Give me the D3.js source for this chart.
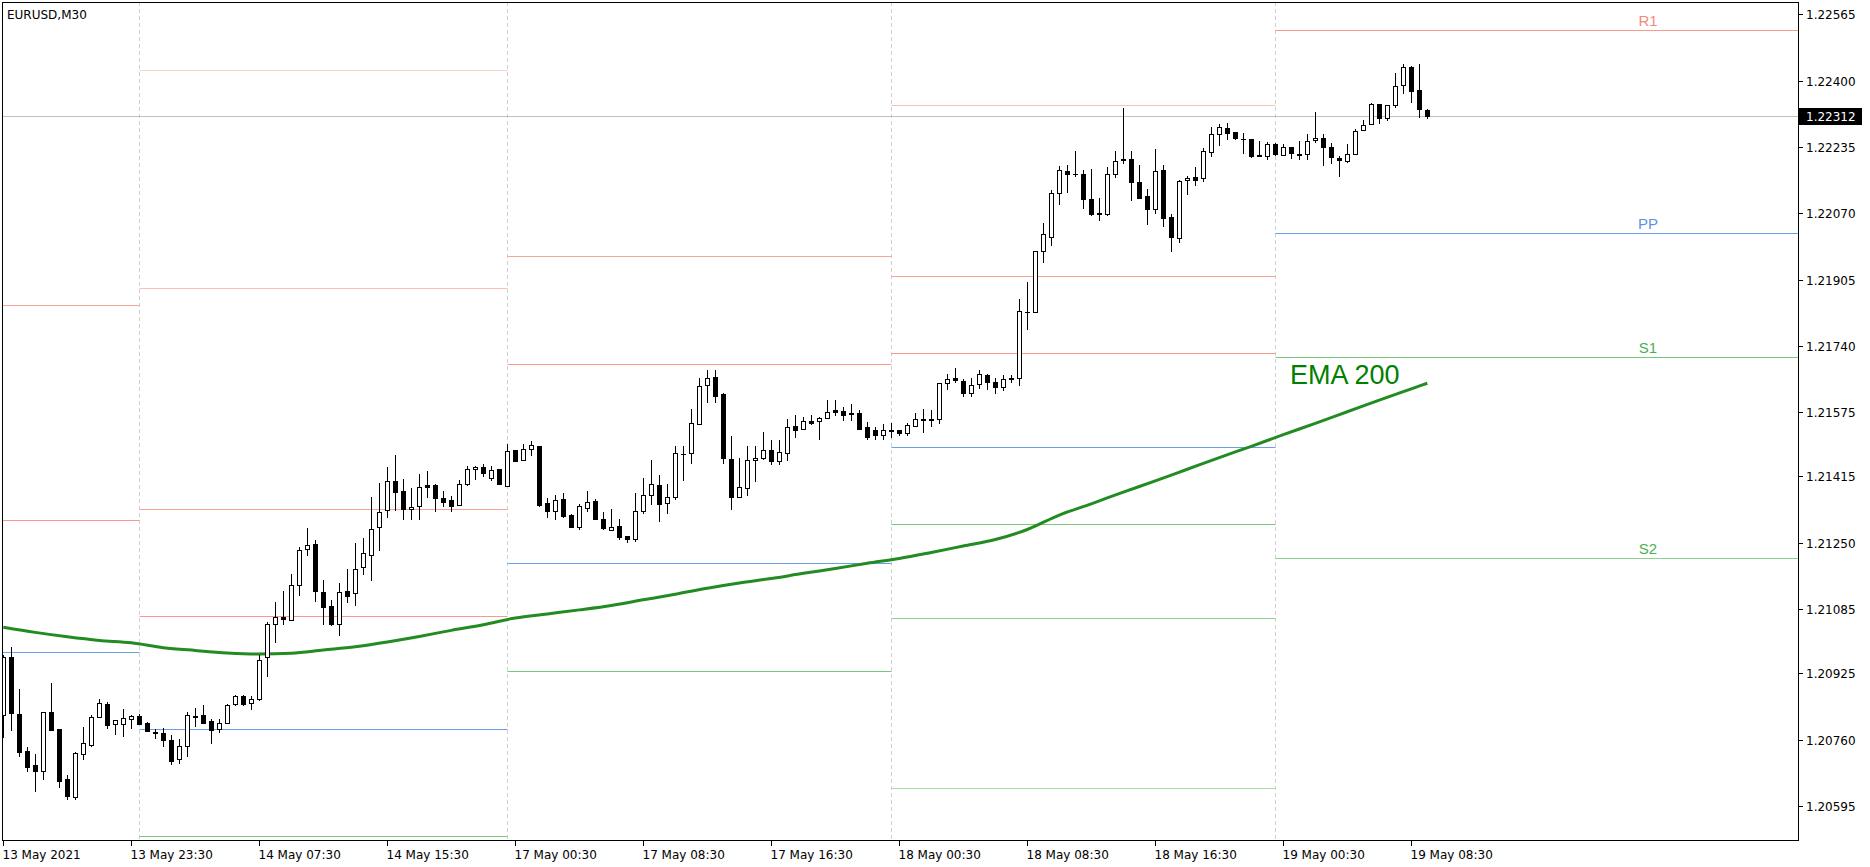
<!DOCTYPE html>
<html><head><meta charset="utf-8">
<script src="https://cdn.jsdelivr.net/npm/d3@7"></script>
<style>html,body{margin:0;padding:0;background:#fff;overflow:hidden}svg{display:block}</style>
</head><body><svg id="c" width="1870" height="867"></svg>
<script>
// ---------- DATA ----------
const symbolTitle = "EURUSD,M30";
const opens = [1.20821,1.20965,1.20823,1.20732,1.20697,1.20683,1.20828,1.20787,1.20662,1.20618,1.20724,1.20747,1.20816,1.20848,1.20798,1.20798,1.20811,1.20818,1.20801,1.20779,1.20776,1.20759,1.20711,1.20745,1.20817,1.20821,1.20806,1.20787,1.20801,1.20848,1.20868,1.20851,1.20861,1.20965,1.21047,1.21065,1.21057,1.21144,1.21234,1.21246,1.21127,1.21092,1.21047,1.21129,1.21124,1.21189,1.21219,1.21289,1.21331,1.21403,1.21378,1.21333,1.21341,1.21393,1.21393,1.21361,1.21356,1.21343,1.21396,1.21433,1.21438,1.21411,1.21434,1.21391,1.21480,1.21455,1.21483,1.21490,1.21348,1.21330,1.21358,1.21318,1.21288,1.21337,1.21353,1.21309,1.21283,1.21291,1.21266,1.21260,1.21330,1.21368,1.21393,1.21348,1.21363,1.21472,1.21473,1.21545,1.21642,1.21662,1.21620,1.21459,1.21363,1.21386,1.21455,1.21460,1.21481,1.21454,1.21473,1.21541,1.21532,1.21553,1.21552,1.21560,1.21580,1.21577,1.21572,1.21572,1.21539,1.21530,1.21519,1.21530,1.21530,1.21522,1.21540,1.21556,1.21557,1.21557,1.21647,1.21659,1.21652,1.21622,1.21644,1.21667,1.21649,1.21637,1.21659,1.21659,1.21824,1.21824,1.21975,1.22010,1.22120,1.22175,1.22167,1.22167,1.22105,1.22070,1.22069,1.22167,1.22205,1.22205,1.22147,1.22112,1.22081,1.22177,1.22060,1.22009,1.22152,1.22160,1.22157,1.22222,1.22266,1.22281,1.22271,1.22254,1.22254,1.22214,1.22212,1.22242,1.22214,1.22234,1.22217,1.22217,1.22252,1.22257,1.22234,1.22207,1.22199,1.22217,1.22276,1.22291,1.22341,1.22306,1.22339,1.22388,1.22433,1.22376,1.22326];
const highs = [1.20971,1.20990,1.20886,1.20742,1.20725,1.20829,1.20901,1.20787,1.20672,1.20729,1.20792,1.20822,1.20861,1.20853,1.20808,1.20837,1.20821,1.20824,1.20803,1.20786,1.20789,1.20772,1.20761,1.20828,1.20838,1.20846,1.20812,1.20812,1.20848,1.20871,1.20870,1.20868,1.20970,1.21052,1.21103,1.21130,1.21172,1.21240,1.21287,1.21257,1.21157,1.21107,1.21150,1.21185,1.21249,1.21262,1.21364,1.21399,1.21439,1.21468,1.21409,1.21386,1.21421,1.21429,1.21396,1.21379,1.21366,1.21406,1.21440,1.21440,1.21445,1.21440,1.21434,1.21495,1.21481,1.21495,1.21504,1.21490,1.21361,1.21368,1.21373,1.21322,1.21347,1.21378,1.21358,1.21326,1.21333,1.21309,1.21267,1.21373,1.21411,1.21455,1.21418,1.21396,1.21490,1.21490,1.21583,1.21659,1.21679,1.21679,1.21622,1.21515,1.21460,1.21490,1.21490,1.21526,1.21506,1.21506,1.21557,1.21568,1.21562,1.21568,1.21562,1.21605,1.21605,1.21587,1.21595,1.21580,1.21550,1.21537,1.21545,1.21548,1.21530,1.21548,1.21572,1.21582,1.21580,1.21647,1.21669,1.21685,1.21657,1.21659,1.21679,1.21669,1.21659,1.21667,1.21667,1.21856,1.21898,1.21975,1.22045,1.22127,1.22188,1.22189,1.22224,1.22177,1.22179,1.22107,1.22184,1.22225,1.22331,1.22224,1.22189,1.22130,1.22230,1.22189,1.22067,1.22152,1.22162,1.22184,1.22232,1.22284,1.22291,1.22294,1.22271,1.22269,1.22254,1.22249,1.22247,1.22244,1.22242,1.22234,1.22249,1.22266,1.22322,1.22266,1.22244,1.22212,1.22242,1.22279,1.22301,1.22344,1.22341,1.22339,1.22418,1.22441,1.22436,1.22441,1.22329];
const lows = [1.20766,1.20783,1.20720,1.20681,1.20633,1.20663,1.20784,1.20643,1.20612,1.20613,1.20711,1.20744,1.20816,1.20790,1.20775,1.20770,1.20788,1.20799,1.20781,1.20765,1.20745,1.20700,1.20702,1.20720,1.20795,1.20802,1.20753,1.20780,1.20801,1.20846,1.20846,1.20836,1.20858,1.20918,1.21004,1.21047,1.21057,1.21121,1.21220,1.21104,1.21047,1.21046,1.21021,1.21103,1.21094,1.21173,1.21158,1.21233,1.21313,1.21332,1.21308,1.21308,1.21310,1.21364,1.21330,1.21341,1.21330,1.21343,1.21393,1.21408,1.21417,1.21405,1.21395,1.21391,1.21453,1.21455,1.21468,1.21342,1.21315,1.21308,1.21315,1.21288,1.21284,1.21330,1.21308,1.21284,1.21283,1.21260,1.21253,1.21255,1.21325,1.21347,1.21305,1.21325,1.21360,1.21405,1.21449,1.21545,1.21601,1.21601,1.21448,1.21335,1.21363,1.21368,1.21403,1.21459,1.21446,1.21446,1.21456,1.21512,1.21532,1.21545,1.21509,1.21560,1.21567,1.21556,1.21556,1.21534,1.21507,1.21507,1.21507,1.21514,1.21518,1.21518,1.21540,1.21526,1.21540,1.21549,1.21632,1.21649,1.21615,1.21615,1.21634,1.21632,1.21622,1.21629,1.21649,1.21642,1.21781,1.21824,1.21948,1.21990,1.22092,1.22122,1.22163,1.22082,1.22066,1.22054,1.22066,1.22161,1.22194,1.22104,1.22109,1.22043,1.22071,1.22039,1.21975,1.21999,1.22117,1.22140,1.22150,1.22212,1.22239,1.22254,1.22254,1.22219,1.22209,1.22212,1.22204,1.22214,1.22214,1.22207,1.22204,1.22204,1.22247,1.22189,1.22194,1.22163,1.22197,1.22217,1.22276,1.22291,1.22294,1.22301,1.22334,1.22369,1.22346,1.22309,1.22306];
const closes = [1.20965,1.20827,1.20730,1.20693,1.20683,1.20828,1.20784,1.20658,1.20621,1.20726,1.20751,1.20816,1.20851,1.20797,1.20808,1.20813,1.20818,1.20800,1.20781,1.20776,1.20760,1.20708,1.20744,1.20821,1.20818,1.20802,1.20785,1.20801,1.20846,1.20868,1.20848,1.20861,1.20958,1.21047,1.21065,1.21061,1.21144,1.21231,1.21244,1.21131,1.21089,1.21049,1.21127,1.21118,1.21184,1.21224,1.21284,1.21326,1.21403,1.21377,1.21333,1.21338,1.21388,1.21390,1.21362,1.21352,1.21342,1.21396,1.21433,1.21438,1.21423,1.21430,1.21395,1.21478,1.21453,1.21483,1.21493,1.21345,1.21330,1.21357,1.21317,1.21290,1.21341,1.21352,1.21308,1.21286,1.21289,1.21265,1.21260,1.21328,1.21368,1.21396,1.21347,1.21363,1.21473,1.21470,1.21547,1.21639,1.21659,1.21616,1.21460,1.21365,1.21388,1.21455,1.21460,1.21481,1.21454,1.21477,1.21537,1.21531,1.21552,1.21549,1.21560,1.21575,1.21576,1.21569,1.21570,1.21534,1.21514,1.21519,1.21530,1.21529,1.21522,1.21542,1.21557,1.21557,1.21556,1.21647,1.21657,1.21654,1.21622,1.21642,1.21669,1.21649,1.21637,1.21657,1.21657,1.21826,1.21825,1.21975,1.22018,1.22120,1.22177,1.22167,1.22167,1.22105,1.22067,1.22067,1.22167,1.22199,1.22202,1.22147,1.22109,1.22081,1.22174,1.22059,1.22012,1.22150,1.22157,1.22152,1.22224,1.22266,1.22284,1.22269,1.22257,1.22255,1.22213,1.22213,1.22242,1.22217,1.22234,1.22219,1.22216,1.22249,1.22257,1.22234,1.22209,1.22202,1.22217,1.22274,1.22289,1.22341,1.22306,1.22339,1.22386,1.22433,1.22373,1.22329,1.22312];

// EMA 200 at every 4th bar
const emaBars   = [0,4,8,12,16,20,24,28,32,36,40,44,48,52,56,60,64,68,72,76,80,84,88,92,96,100,104,108,112,116,120,124,128,132,136,140,144,148,152,156,160,164,168,172,176,178];
const emaValues = [1.21040,1.21027,1.21016,1.21007,1.21001,1.20989,1.20982,1.20976,1.20973,1.20975,1.20983,1.20991,1.21003,1.21017,1.21032,1.21046,1.21063,1.21073,1.21083,1.21094,1.21108,1.21122,1.21137,1.21150,1.21161,1.21174,1.21186,1.21199,1.21211,1.21226,1.21242,1.21258,1.21283,1.21319,1.21347,1.21376,1.21404,1.21433,1.21462,1.21490,1.21519,1.21547,1.21576,1.21605,1.21633,1.21647];

// x axis labels at bar index
const xTickBars   = [0,16,32,48,64,80,96,112,128,144,160,176];
const xTickLabels = ["13 May 2021","13 May 23:30","14 May 07:30","14 May 15:30","17 May 00:30","17 May 08:30","17 May 16:30","18 May 00:30","18 May 08:30","18 May 16:30","19 May 00:30","19 May 08:30"];
// y axis labels
const yTicks = [1.22565,1.22400,1.22235,1.22070,1.21905,1.21740,1.21575,1.21415,1.21250,1.21085,1.20925,1.20760,1.20595];
const lastPrice = 1.22312;

// daily pivots: first bar of each day (day separators)
const dayStartBars = [0,17,63,111,159];
const pivR4 = [null,1.22427,null,null,null];
const pivR3 = [null,1.21883,null,1.22339,null];
const pivR2 = [1.21841,1.21333,1.21964,1.21913,null];
const pivR1 = [1.21307,1.21068,1.21694,1.21722,1.22526];
const pivPP = [1.20978,1.20786,1.21200,1.21488,1.22020];
const pivS1 = [null,1.20520,1.20930,1.21297,1.21713];
const pivS2 = [null,null,null,1.21063,1.21212];
const pivS3 = [null,null,null,1.20639,null];

// ---------- DRAW ----------
const svg = d3.select("#c");
const L = 2, T = 2, R = 1798, B = 840;
const x = d3.scaleLinear().domain([0, 178]).range([3.3, 1427.3]);
const y = d3.scaleLinear().domain([1.20595, 1.22565]).range([806, 14.3]);
const px = v => Math.round(x(v)) + 0.5;
const py = v => Math.round(y(v)) + 0.5;

svg.append("rect").attr("width",1870).attr("height",867).attr("fill","#fff");

const plot = svg.append("g");
plot.append("defs").append("clipPath").attr("id","clip")
  .append("rect").attr("x",L).attr("y",T).attr("width",R-L).attr("height",B-T);
const g = plot.append("g").attr("clip-path","url(#clip)");

// day separators
dayStartBars.slice(1).forEach(b => {
  g.append("line").attr("x1",px(b)).attr("x2",px(b)).attr("y1",T).attr("y2",B)
   .attr("stroke","#d0d0d0").attr("stroke-dasharray","4,3").attr("stroke-width",1);
});

// pivot lines
const levels = [
  {vals:pivR4, color:"#fbd0c8"},
  {vals:pivR3, color:"#f9c0b5"},
  {vals:pivR2, color:"#f6a593"},
  {vals:pivR1, color:"#f59c89"},
  {vals:pivPP, color:"#6a9ee6"},
  {vals:pivS1, color:"#79c879"},
  {vals:pivS2, color:"#8cd08c"},
  {vals:pivS3, color:"#a6dca6"}
];
levels.forEach(lv => {
  lv.vals.forEach((v,d) => {
    if (v == null) return;
    const x1 = d === 0 ? L : px(dayStartBars[d]);
    const x2 = d === dayStartBars.length-1 ? R : px(dayStartBars[d+1]);
    g.append("line").attr("x1",x1).attr("x2",x2).attr("y1",py(v)).attr("y2",py(v))
      .attr("stroke",lv.color).attr("stroke-width",1);
  });
});

// last price line
g.append("line").attr("x1",L).attr("x2",R).attr("y1",py(lastPrice)).attr("y2",py(lastPrice))
  .attr("stroke","#c0c0c0").attr("stroke-width",1);

// pivot labels for current day
const lastD = dayStartBars.length-1;
[["R1",pivR1[lastD],"#f08a7a"],["PP",pivPP[lastD],"#5b93e6"],["S1",pivS1[lastD],"#4caf50"],["S2",pivS2[lastD],"#4caf50"]]
  .forEach(([t,v,c]) => {
    g.append("text").attr("x",1648).attr("y",y(v)-4).attr("text-anchor","middle")
     .attr("font-family","Liberation Sans, Arial, sans-serif").attr("font-size",15)
     .attr("fill",c).text(t);
  });

// EMA
const ema = d3.line().x((d,i)=>x(emaBars[i])).y(d=>y(d)).curve(d3.curveMonotoneX);
g.append("path").datum(emaValues).attr("d",ema).attr("fill","none")
  .attr("stroke","#228b22").attr("stroke-width",3);
g.append("text").attr("x",1290).attr("y",384).attr("font-family","Liberation Sans, Arial, sans-serif")
  .attr("font-size",27).attr("fill","#008000").text("EMA 200");

// candles
const idx = d3.range(opens.length);
const cg = g.append("g");
idx.forEach(i => {
  const o = opens[i], c = closes[i], h = highs[i], l = lows[i];
  const cx = px(i);
  cg.append("line").attr("x1",cx).attr("x2",cx).attr("y1",Math.round(y(h))).attr("y2",Math.round(y(l))+1)
    .attr("stroke","#000").attr("stroke-width",1);
  const top = py(Math.max(o,c)), bot = py(Math.min(o,c));
  if (bot - top < 1) {
    cg.append("line").attr("x1",cx-2.5).attr("x2",cx+2.5).attr("y1",top).attr("y2",top)
      .attr("stroke","#000").attr("stroke-width",1);
  } else {
    cg.append("rect").attr("x",cx-2).attr("y",top).attr("width",4).attr("height",bot-top)
      .attr("fill", c >= o ? "#fff" : "#000").attr("stroke","#000").attr("stroke-width",1);
  }
});

// frame
svg.append("rect").attr("x",L+0.5).attr("y",T+0.5).attr("width",R-L).attr("height",B-T)
  .attr("fill","none").attr("stroke","#000").attr("stroke-width",1);

// title
svg.append("text").attr("x",7).attr("y",19).attr("font-family","DejaVu Sans, sans-serif")
  .attr("font-size",12).attr("fill","#000").text(symbolTitle);

// y axis
const yAxis = svg.append("g");
yTicks.forEach(v => {
  const yy = py(v);
  yAxis.append("line").attr("x1",R+1).attr("x2",R+5).attr("y1",yy).attr("y2",yy).attr("stroke","#000");
  yAxis.append("text").attr("x",1806).attr("y",yy+4.5).attr("font-family","DejaVu Sans, sans-serif")
    .attr("font-size",12).attr("fill","#000").text(d3.format(".5f")(v));
});
// last price tag
const ly = py(lastPrice);
yAxis.append("rect").attr("x",1799).attr("y",ly-8.5).attr("width",63).attr("height",17).attr("fill","#000");
yAxis.append("text").attr("x",1806).attr("y",ly+4.5).attr("font-family","DejaVu Sans, sans-serif")
  .attr("font-size",12).attr("fill","#fff").text(d3.format(".5f")(lastPrice));

// x axis
const xAxis = svg.append("g");
xTickBars.forEach((b,k) => {
  const xx = px(b);
  xAxis.append("line").attr("x1",xx).attr("x2",xx).attr("y1",B+1).attr("y2",B+6).attr("stroke","#000");
  xAxis.append("text").attr("x",xx-1).attr("y",859).attr("font-family","DejaVu Sans, sans-serif")
    .attr("font-size",12).attr("fill","#000").text(xTickLabels[k]);
});
</script></body></html>
